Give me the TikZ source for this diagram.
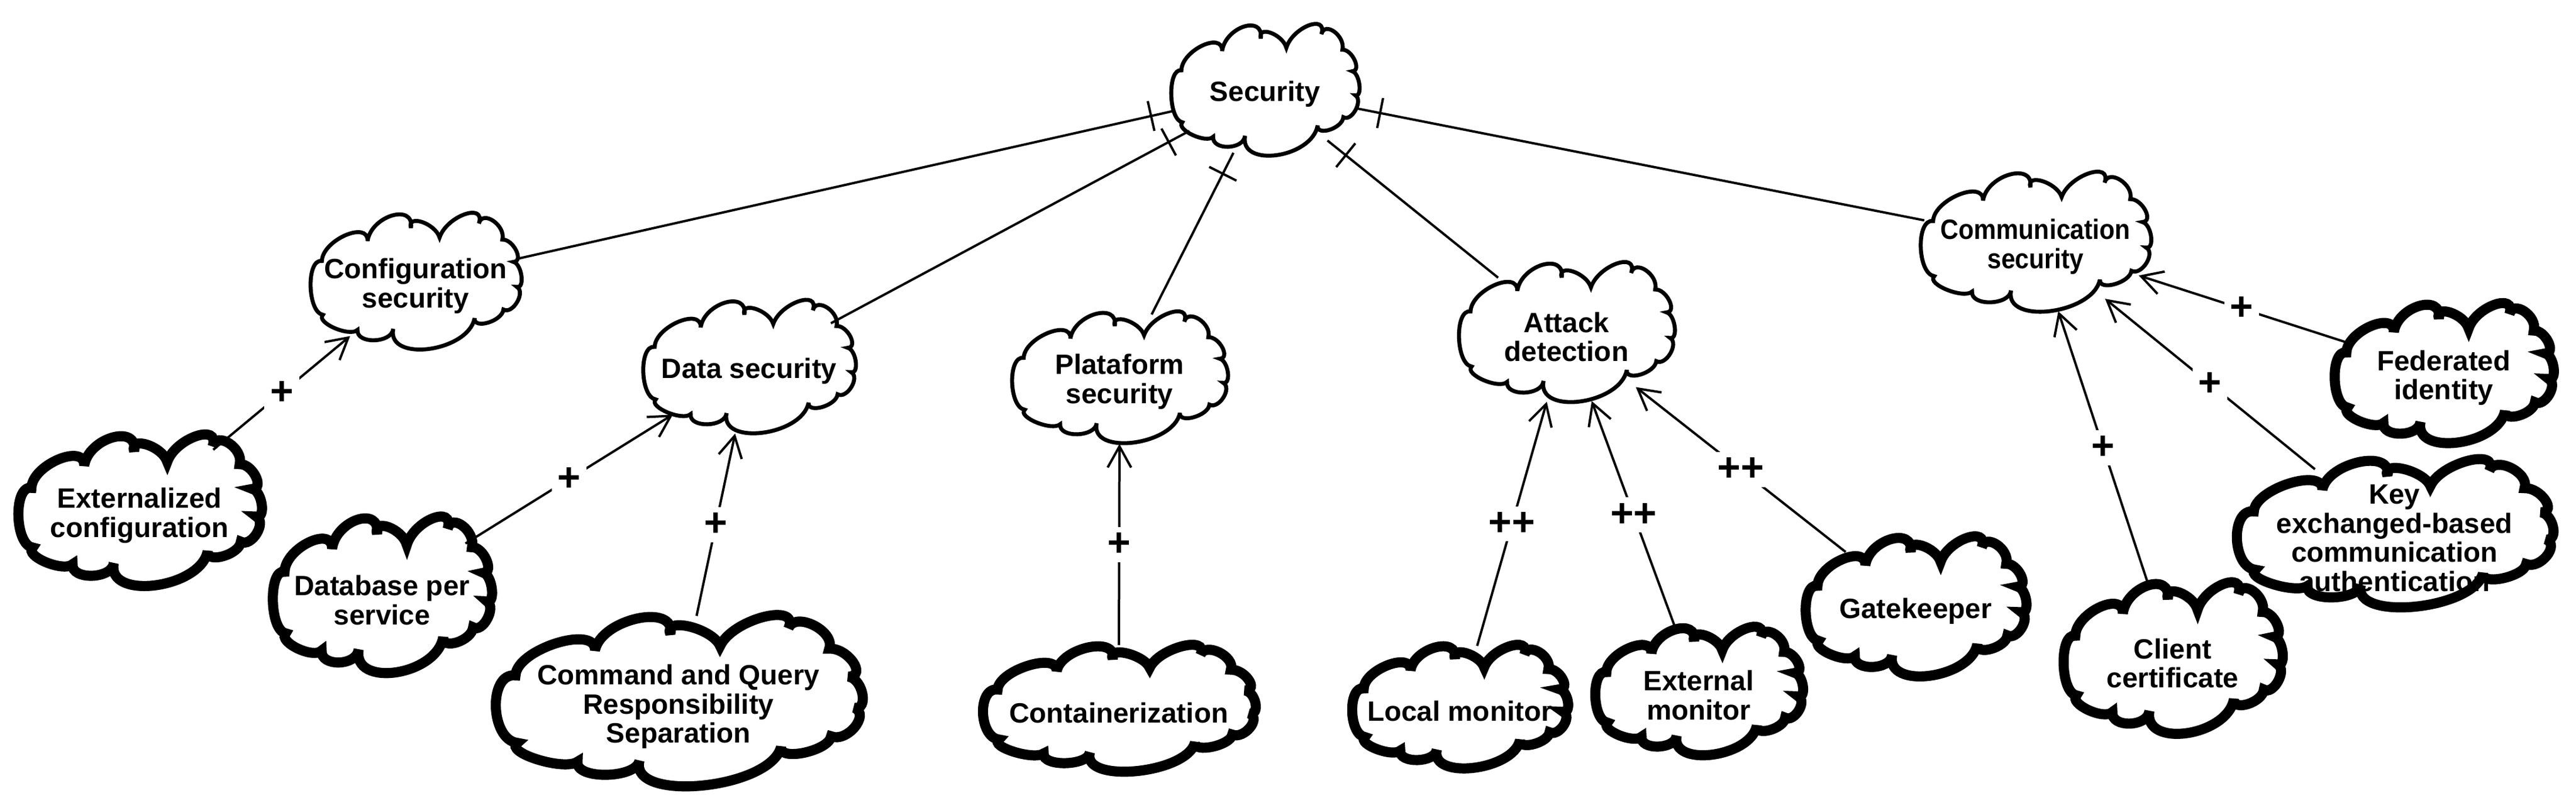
\documentclass[tikz,border=0pt]{standalone}
\usepackage{fontspec}
\usepackage{graphicx}
\setmainfont{Liberation Sans}
\usetikzlibrary{shapes.geometric, arrows.meta, decorations.markings}

\tikzset{
  topgoal/.style={line width=1.7pt, line join=miter, miter limit=4, fill=white},
  leafgoal/.style={line width=4.3pt, line join=miter, miter limit=4, fill=white},
  goaltext/.style={align=center, inner sep=0pt, font=\bfseries\fontsize{11.9}{12.4}\selectfont},
  rim/.style={ellipse, inner sep=0pt, draw=none},
  conn/.style={line width=1pt},
  contrib/.style={conn, -{Straight Barb[length=9pt,width=10pt]}},
  decomp/.style={conn, postaction={decorate}, decoration={markings, mark=at position 10pt with {\draw[line width=1pt] (0,-6.5pt) -- (0,6.5pt);}}},
  lbl/.style={fill=white, inner sep=2.5pt, font=\bfseries\fontsize{17}{17}\selectfont},
}
\newcommand\narrowline[1]{\scalebox{0.9}[1]{#1}}

% #1 name, #2 cx, #3 cy, #4 w, #5 h, #6 style, #7 text
\newcommand\softgoal[7]{%
  \node[rim, minimum width=#4*0.7pt, minimum height=#5*0.7pt] (#1) at (#2,#3) {};
  \begin{scope}[shift={(#2-#4/2,#3-#5/2)}, xscale=#4, yscale=#5]
    \draw[#6] (0.061,0.348)
      .. controls (0.064,0.195) and (0.278,0.048) .. (0.275,0.201)
      .. controls (0.292,0.016) and (0.495,-0.079) .. (0.478,0.106)
      .. controls (0.458,0.001) and (0.592,0.071) .. (0.612,0.176)
      .. controls (0.645,0.018) and (0.829,-0.085) .. (0.796,0.073)
      .. controls (0.813,-0.031) and (0.923,0.087) .. (0.906,0.191)
      .. controls (0.957,0.187) and (1.009,0.351) .. (0.958,0.355)
      .. controls (0.997,0.369) and (1.013,0.552) .. (0.974,0.538)
      .. controls (1.017,0.577) and (0.954,0.743) .. (0.911,0.704)
      .. controls (0.906,0.789) and (0.771,0.853) .. (0.776,0.768)
      .. controls (0.745,1.016) and (0.364,1.094) .. (0.395,0.846)
      .. controls (0.388,0.953) and (0.221,0.960) .. (0.228,0.853)
      .. controls (0.192,0.909) and (0.030,0.799) .. (0.066,0.743)
      .. controls (-0.008,0.724) and (-0.013,0.329) .. (0.061,0.348) -- cycle;
  \end{scope}
  \node[goaltext] (#1t) at (#2,#3+0.03*#5) {#7};
}

\begin{document}
\begin{tikzpicture}[x=0.7pt,y=-0.7pt]
\useasboundingbox[fill=white] (0,0) rectangle (1568,493);

\softgoal{sec}{770}{55}{116}{80}{topgoal}{Security}
\softgoal{conf}{253}{171.5}{130}{83}{topgoal}{Configuration\\security}
\softgoal{data}{456}{223.5}{131}{81}{topgoal}{Data security}
\softgoal{plat}{681.5}{230}{133}{80}{topgoal}{Plataform\\security}
\softgoal{att}{953.5}{202.5}{133}{85}{topgoal}{Attack\\detection}
\softgoal{comm}{1239}{147.5}{142}{85}{topgoal}{\narrowline{Communication}\\\narrowline{security}}
\softgoal{ext}{85}{311}{150}{92}{leafgoal}{Externalized\\configuration}
\softgoal{db}{232.5}{362.5}{135}{95}{leafgoal}{Database per\\service}
\softgoal{cqrs}{413}{427}{226}{104}{leafgoal}{Command and Query\\Responsibility\\Separation}
\softgoal{cont}{681}{431.5}{168}{77}{leafgoal}{Containerization}
\softgoal{loc}{888.5}{430.5}{133}{75}{leafgoal}{Local monitor}
\softgoal{extm}{1034}{421}{128}{78}{leafgoal}{External\\monitor}
\softgoal{gate}{1166}{369.5}{136}{85}{leafgoal}{Gatekeeper}
\softgoal{fed}{1487.5}{227.5}{135}{85}{leafgoal}{Federated\\identity}
\softgoal{key}{1457.5}{325}{195}{90}{leafgoal}{Key\\exchanged-based\\communication\\authentication}
\softgoal{cli}{1322.5}{401}{135}{92}{leafgoal}{Client\\certificate}

\draw[decomp] (sec) -- (conf);
\draw[decomp] (sec) -- (data);
\draw[decomp] (sec) -- (plat);
\draw[decomp] (sec) -- (att);
\draw[decomp] (sec) -- (comm);

\draw[contrib] (ext) -- node[lbl] (l1) {+} (conf);
\draw[contrib] (db) -- node[lbl] (l2) {+} (data);
\draw[contrib] (cqrs) -- node[lbl] (l3) {+} (data);
\draw[contrib] (cont) -- node[lbl] (l4) {+} (plat);
\draw[contrib] (loc) -- node[lbl] (l5) {++} (att);
\draw[contrib] (extm) -- node[lbl] (l6) {++} (att);
\draw[contrib] (gate) -- node[lbl] (l7) {++} (att);
\draw[contrib] (cli) -- node[lbl] (l8) {+} (comm);
\draw[contrib] (key) -- node[lbl] (l9) {+} (comm);
\draw[contrib] (fed) -- node[lbl] (l10) {+} (comm);
\end{tikzpicture}
\end{document}
